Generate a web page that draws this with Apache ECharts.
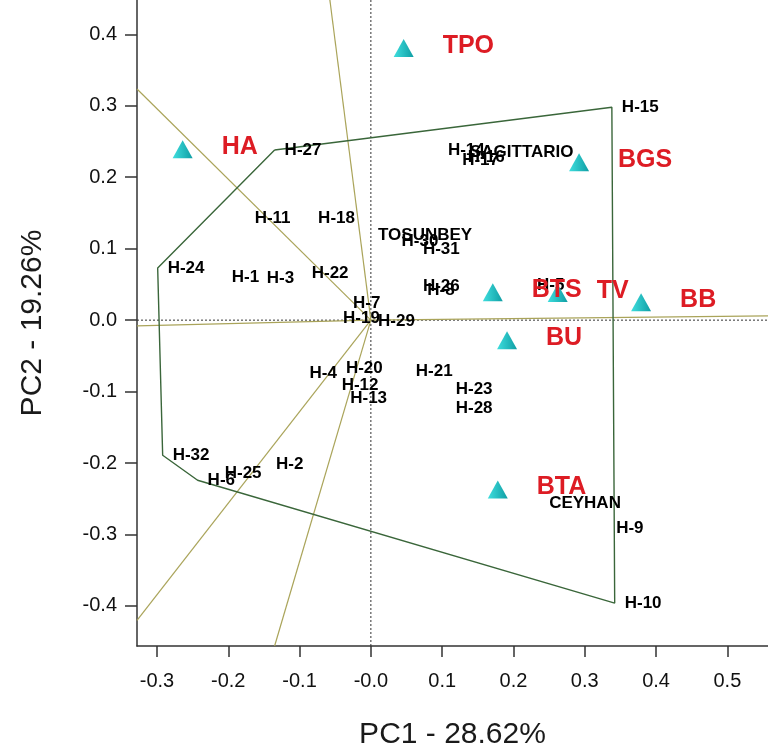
<!DOCTYPE html>
<html>
<head>
<meta charset="utf-8">
<script src="https://cdn.jsdelivr.net/npm/echarts@6/dist/echarts.min.js"></script>
<style>
  html, body { margin: 0; padding: 0; background: #fff; }
  #chart { width: 768px; height: 753px; }
</style>
</head>
<body>
<div id="chart"></div>
<script>
// genotypes (black labels), PC1 / PC2 scores
const genotypeNames = ['H-1', 'H-2', 'H-3', 'H-4', 'H-5', 'H-6', 'H-7', 'H-8', 'H-9', 'H-10',
  'H-11', 'H-12', 'H-13', 'H-14', 'H-15', 'H-16', 'H-17', 'H-18', 'H-19', 'H-20',
  'H-21', 'H-22', 'H-23', 'H-24', 'H-25', 'H-26', 'H-27', 'H-28', 'H-29', 'H-30',
  'H-31', 'H-32', 'TOSUNBEY', 'SAGITTARIO', 'CEYHAN'];
const genotypePC1 = [-0.209, -0.147, -0.160, -0.100, 0.219, -0.243, -0.039, 0.065, 0.330, 0.342,
  -0.177, -0.055, -0.043, 0.094, 0.338, 0.122, 0.114, -0.088, -0.053, -0.049,
  0.049, -0.097, 0.105, -0.299, -0.219, 0.059, -0.135, 0.105, -0.004, 0.029,
  0.059, -0.292, -0.004, 0.125, 0.236];
const genotypePC2 = [0.060, -0.202, 0.059, -0.074, 0.049, -0.224, 0.024, 0.042, -0.291, -0.396,
  0.143, -0.091, -0.109, 0.237, 0.298, 0.228, 0.223, 0.143, 0.003, -0.067,
  -0.071, 0.066, -0.097, 0.073, -0.214, 0.048, 0.238, -0.123, -0.001, 0.111,
  0.099, -0.189, 0.119, 0.235, -0.256];

// environments (red labels, triangles)
const envNames = ['TPO', 'HA', 'BGS', 'BTS', 'TV', 'BB', 'BU', 'BTA'];
const envPC1 = [0.046, -0.264, 0.292, 0.171, 0.262, 0.379, 0.191, 0.178];
const envPC2 = [0.381, 0.239, 0.221, 0.039, 0.038, 0.025, -0.028, -0.237];

// polygon of the outermost genotypes
const hullOrder = ['H-27', 'H-15', 'H-10', 'H-6', 'H-32', 'H-24', 'H-27'];

// rays from the origin, perpendicular to the polygon sides (end points)
const rayEndPC1 = [-0.328, -0.0575, 0.557, -0.328, -0.328, -0.135];
const rayEndPC2 = [0.3235, 0.448, 0.006, -0.008, -0.42, -0.456];

const xMin = -0.328, xMax = 0.557;
const yMin = -0.456, yMax = 0.448;
const xTickValues = [-0.3, -0.2, -0.1, 0, 0.1, 0.2, 0.3, 0.4, 0.5];
const xTickLabels = ['-0.3', '-0.2', '-0.1', '-0.0', '0.1', '0.2', '0.3', '0.4', '0.5'];
const yTickValues = [-0.4, -0.3, -0.2, -0.1, 0, 0.1, 0.2, 0.3, 0.4];
const yTickLabels = ['-0.4', '-0.3', '-0.2', '-0.1', '0.0', '0.1', '0.2', '0.3', '0.4'];

const FONT = 'Liberation Sans';

function tickText(values, labels) {
  return function (v) {
    let best = 0;
    values.forEach((t, i) => {
      if (Math.abs(t - v) < Math.abs(values[best] - v)) best = i;
    });
    return labels[best];
  };
}

const genotypeData = genotypeNames.map((n, i) => ({ name: n, value: [genotypePC1[i], genotypePC2[i]] }));
const envData = envNames.map((n, i) => ({ name: n, value: [envPC1[i], envPC2[i]] }));
const hullData = hullOrder.map(n => {
  const i = genotypeNames.indexOf(n);
  return [genotypePC1[i], genotypePC2[i]];
});

const raySeries = rayEndPC1.map((x, i) => ({
  type: 'line',
  data: [[0, 0], [x, rayEndPC2[i]]],
  symbol: 'none',
  silent: true,
  z: 2,
  lineStyle: { color: '#aaa45a', width: 1.2 }
}));

const chart = echarts.init(document.getElementById('chart'));

chart.setOption({
  animation: false,
  backgroundColor: '#fff',
  grid: { left: 137, right: 0, top: 0, bottom: 107, outerBoundsMode: 'none' },
  xAxis: {
    type: 'value',
    min: xMin,
    max: xMax,
    name: 'PC1 - 28.62%',
    nameLocation: 'middle',
    nameGap: 74,
    nameTextStyle: { fontFamily: FONT, fontSize: 30, color: '#1a1a1a' },
    axisLine: { onZero: false, lineStyle: { color: '#333', width: 1.5 } },
    axisTick: { customValues: xTickValues, length: 11, lineStyle: { color: '#333', width: 1.5 } },
    axisLabel: {
      customValues: xTickValues,
      formatter: tickText(xTickValues, xTickLabels),
      margin: 25,
      fontFamily: FONT, fontSize: 20, color: '#111'
    },
    splitLine: { show: false }
  },
  yAxis: {
    type: 'value',
    min: yMin,
    max: yMax,
    name: 'PC2 - 19.26%',
    nameLocation: 'middle',
    nameGap: 89,
    nameTextStyle: { fontFamily: FONT, fontSize: 30, color: '#1a1a1a' },
    axisLine: { onZero: false, lineStyle: { color: '#333', width: 1.5 } },
    axisTick: { customValues: yTickValues, length: 12, lineStyle: { color: '#333', width: 1.5 } },
    axisLabel: {
      customValues: yTickValues,
      formatter: tickText(yTickValues, yTickLabels),
      margin: 20,
      fontFamily: FONT, fontSize: 20, color: '#111'
    },
    splitLine: { show: false }
  },
  series: [
    // dotted reference lines through the origin
    {
      type: 'line',
      data: [[0, yMin], [0, yMax]],
      symbol: 'none', silent: true, z: 1,
      lineStyle: { color: '#333', width: 1, type: [2, 2] }
    },
    {
      type: 'line',
      data: [[xMin, 0], [xMax, 0]],
      symbol: 'none', silent: true, z: 1,
      lineStyle: { color: '#333', width: 1, type: [2, 2] }
    },
    ...raySeries,
    {
      type: 'line',
      data: hullData,
      symbol: 'none', silent: true, z: 3,
      lineStyle: { color: '#3a663a', width: 1.4 }
    },
    {
      type: 'scatter',
      data: genotypeData,
      symbolSize: 0,
      z: 4,
      itemStyle: { opacity: 1 },
      label: {
        show: true,
        position: 'right',
        distance: 10,
        formatter: '{b}',
        fontFamily: FONT, fontSize: 17, fontWeight: 'bold', color: '#000'
      }
    },
    {
      type: 'scatter',
      data: envData,
      symbol: 'triangle',
      symbolSize: [20, 18],
      z: 5,
      itemStyle: {
        opacity: 1,
        color: new echarts.graphic.LinearGradient(0, 0, 1, 0, [
          { offset: 0, color: '#3fdede' },
          { offset: 1, color: '#0f9ea4' }
        ])
      },
      label: {
        show: true,
        position: 'right',
        distance: 29,
        offset: [0, -2],
        formatter: '{b}',
        fontFamily: FONT, fontSize: 25, fontWeight: 'bold', color: '#dd1c24'
      }
    }
  ]
});
</script>
</body>
</html>
